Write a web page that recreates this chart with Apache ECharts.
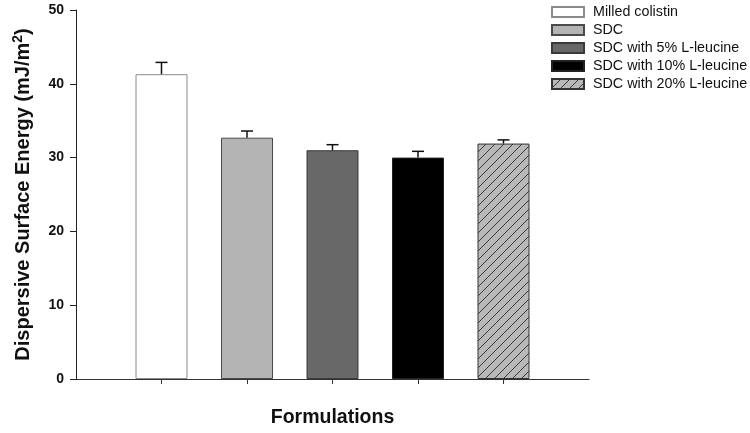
<!DOCTYPE html>
<html>
<head>
<meta charset="utf-8">
<script src="https://cdn.jsdelivr.net/npm/echarts@6/dist/echarts.min.js"></script>
<style>html,body{margin:0;padding:0;background:#fff}#c{width:750px;height:433px}</style>
</head>
<body>
<div id="c"></div>
<script>
// Data
const seriesNames = ['Milled colistin', 'SDC', 'SDC with 5% L-leucine', 'SDC with 10% L-leucine', 'SDC with 20% L-leucine'];
const positions = [1, 2, 3, 4, 5];
const means = [41.3, 32.7, 31.0, 30.0, 31.9];
const errors = [1.6, 0.9, 0.75, 0.85, 0.5];
const yTicks = [0, 10, 20, 30, 40, 50];

// Hatch pattern
function makeHatch() {
  const s = 9;
  const c = document.createElement('canvas');
  c.width = s; c.height = s;
  const g = c.getContext('2d');
  g.fillStyle = '#b8b8b8';
  g.fillRect(0, 0, s, s);
  g.strokeStyle = '#3a3a3a';
  g.lineWidth = 1;
  g.beginPath();
  g.moveTo(0, s); g.lineTo(s, 0);
  g.moveTo(-s, s); g.lineTo(0, 0);
  g.moveTo(s, 2 * s); g.lineTo(2 * s, s);
  g.stroke();
  return c;
}
const hatch = makeHatch();

const fills = ['#ffffff', '#b4b4b4', '#686868', '#000000', {image: hatch, repeat: 'repeat'}];
const borders = ['#8a8a8a', '#4a4a4a', '#3a3a3a', '#222222', '#333333'];

const chart = echarts.init(document.getElementById('c'));

const barSeries = seriesNames.map((n, i) => ({
  name: n,
  type: 'bar',
  barWidth: 52,
  barGap: '-100%',
  data: [[positions[i], means[i]]],
  itemStyle: {color: fills[i], borderColor: borders[i], borderWidth: 1},
  emphasis: {disabled: true},
  z: 2
}));

const errData = positions.map((p, i) => [p, means[i] + errors[i], means[i]]);

const errSeries = {
  type: 'custom',
  name: 'err',
  data: errData,
  z: 5,
  renderItem: function (params, api) {
    const top = api.coord([api.value(0), api.value(1)]);
    const base = api.coord([api.value(0), api.value(2)]);
    const hw = 6;
    return {
      type: 'group',
      children: [
        {type: 'line', shape: {x1: top[0], y1: top[1], x2: base[0], y2: base[1]}, style: {stroke: '#111', lineWidth: 1.5}},
        {type: 'line', shape: {x1: top[0] - hw, y1: top[1], x2: top[0] + hw, y2: top[1]}, style: {stroke: '#111', lineWidth: 1.5}}
      ]
    };
  }
};

chart.setOption({
  animation: false,
  backgroundColor: '#fff',
  grid: {left: 76, right: 161, top: 10, bottom: 54, containLabel: false},
  legend: {
    orient: 'vertical',
    left: 551,
    top: 5,
    padding: 0,
    data: seriesNames,
    icon: 'rect',
    itemWidth: 32,
    itemHeight: 10,
    itemGap: 4,
    selectedMode: false,
    textStyle: {fontFamily: 'Liberation Sans, Arial', fontSize: 14.3, color: '#111', lineHeight: 14, padding: [0, 0, 0, 4]}
  },
  xAxis: {
    type: 'value',
    min: 0,
    max: 6,
    name: 'Formulations',
    nameLocation: 'middle',
    nameGap: 29,
    nameTextStyle: {fontFamily: 'Liberation Sans, Arial', fontWeight: 'bold', fontSize: 19.5, color: '#111'},
    axisLine: {show: true, lineStyle: {color: '#333', width: 1}},
    axisTick: {show: true, customValues: positions, length: 5, lineStyle: {color: '#333'}},
    axisLabel: {show: false},
    splitLine: {show: false}
  },
  yAxis: {
    type: 'value',
    min: 0,
    max: 50,
    interval: 10,
    name: 'Dispersive Surface Energy (mJ/m{sup|2})',
    nameLocation: 'middle',
    nameGap: 41,
    nameTextStyle: {
      fontFamily: 'Liberation Sans, Arial', fontWeight: 'bold', fontSize: 20, color: '#111',
      rich: {
        sup: {fontFamily: 'Liberation Sans, Arial', fontWeight: 'bold', fontSize: 14, color: '#111', verticalAlign: 'top', padding: [0, 0, 10, 0]}
      }
    },
    axisLine: {show: true, lineStyle: {color: '#222', width: 1}},
    axisTick: {show: true, length: 6, lineStyle: {color: '#222'}},
    axisLabel: {
      margin: 12,
      fontFamily: 'Liberation Sans, Arial', fontWeight: 'bold', fontSize: 14, color: '#111',
      formatter: function (v) { return yTicks.indexOf(v) >= 0 ? String(v) : ''; }
    },
    splitLine: {show: false}
  },
  series: barSeries.concat([errSeries])
});
</script>
</body>
</html>
